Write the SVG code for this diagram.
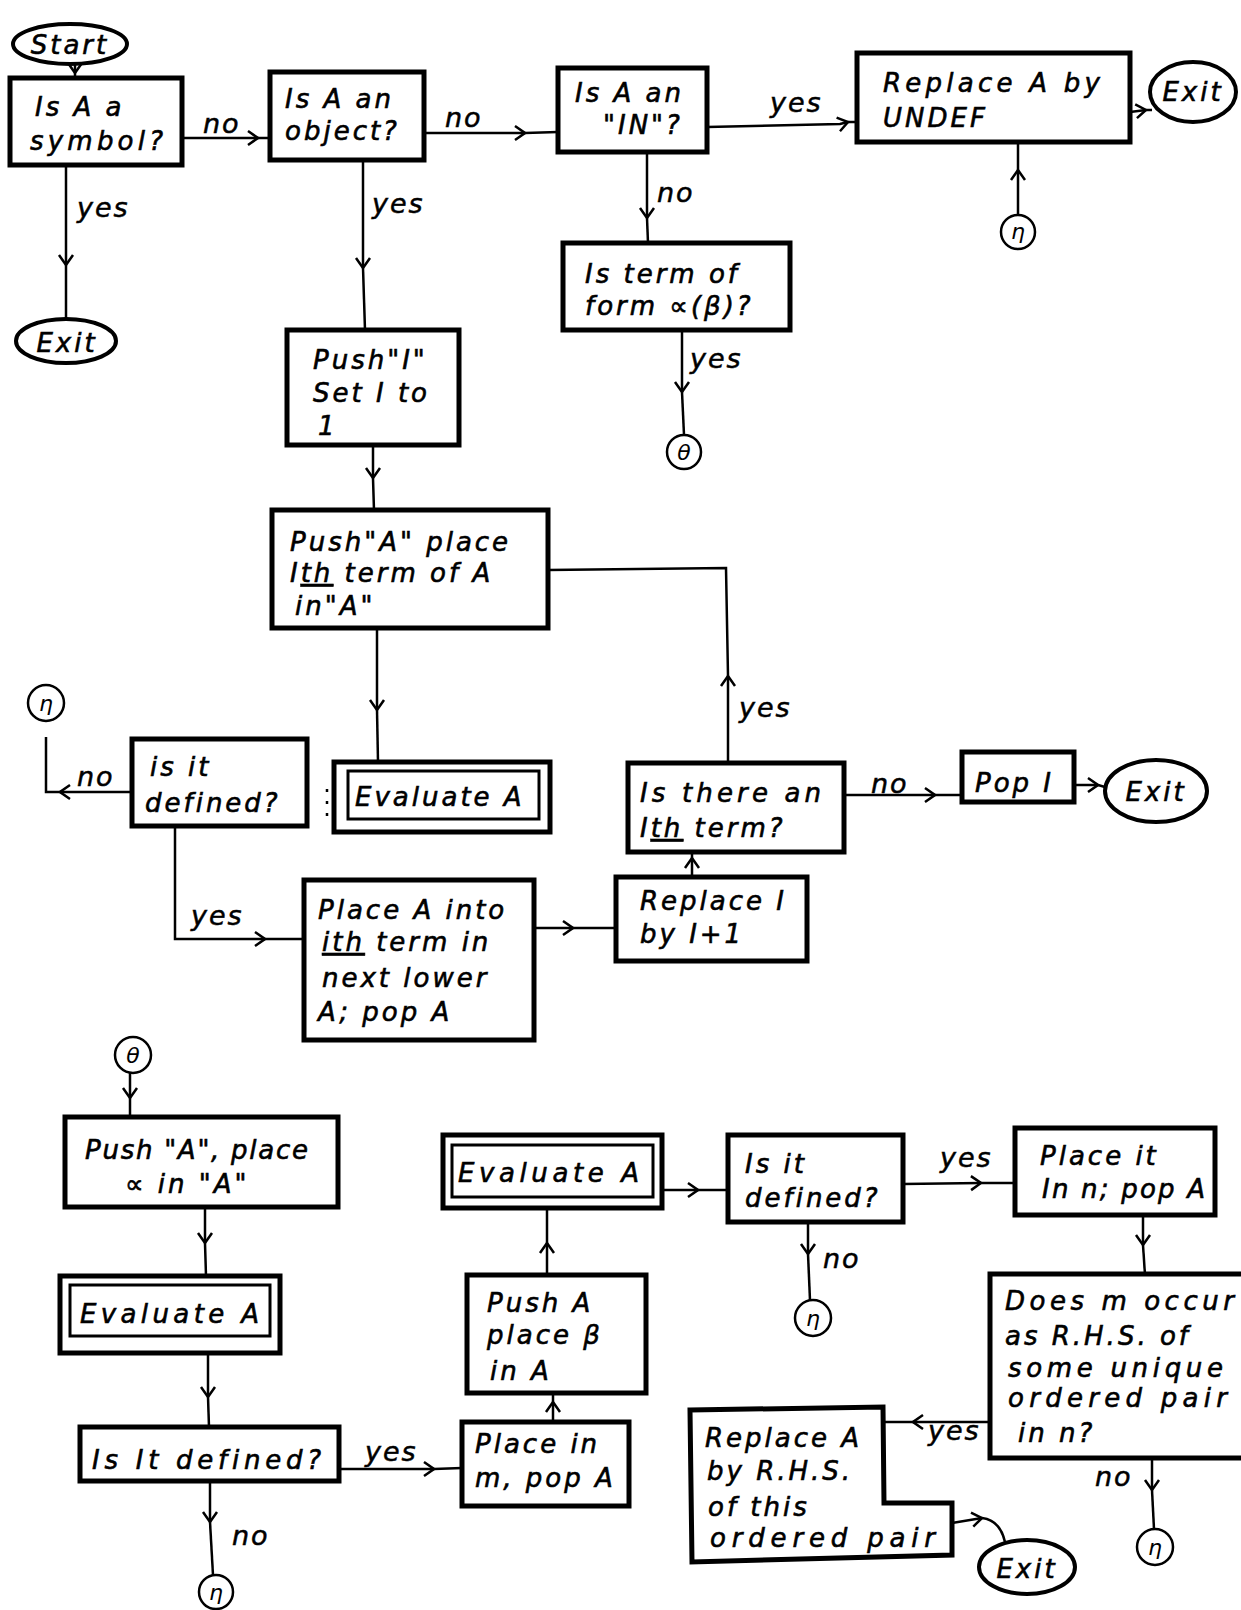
<svg xmlns="http://www.w3.org/2000/svg" width="1241" height="1610" viewBox="0 0 1241 1610">
<defs>
<style>
.t{font-family:"DejaVu Sans","Liberation Sans",sans-serif;font-style:italic;font-size:26px;letter-spacing:3px;fill:#000;stroke:#000;stroke-width:0.6}
.l{font-family:"DejaVu Sans","Liberation Sans",sans-serif;font-style:italic;font-size:27px;letter-spacing:2px;fill:#000;stroke:#000;stroke-width:0.5}
.m{font-family:"DejaVu Sans","Liberation Sans",sans-serif;font-style:italic;font-size:22px;fill:#000;text-anchor:middle}
.b{fill:#fff;stroke:#000;stroke-width:5}
.bi{fill:none;stroke:#000;stroke-width:3}
.e{fill:#fff;stroke:#000;stroke-width:4}
.k{fill:#fff;stroke:#000;stroke-width:2.5}
.c{fill:none;stroke:#000;stroke-width:2.5}
.u{text-decoration:underline}
</style>
<marker id="a" viewBox="-12 -9 14 18" refX="0" refY="0" markerWidth="14" markerHeight="18" markerUnits="userSpaceOnUse" orient="auto">
<path d="M-10,-7 L0,0 L-10,7" fill="none" stroke="#000" stroke-width="2.5"/>
</marker>
</defs>
<rect width="1241" height="1610" fill="#fff"/>

<g id="connectors">
<path class="c" d="M75,62 L75,73" marker-end="url(#a)"/><path class="c" d="M75,73 L75,78"/>
<path class="c" d="M182,138 L258,138" marker-end="url(#a)"/><path class="c" d="M258,138 L270,138"/>
<path class="c" d="M66,165 L66,265" marker-end="url(#a)"/><path class="c" d="M66,265 L66,319"/>
<path class="c" d="M424,133 L525,133" marker-end="url(#a)"/><path class="c" d="M525,133 L558,132"/>
<path class="c" d="M363,160 L363,268" marker-end="url(#a)"/><path class="c" d="M363,268 L365,330"/>
<path class="c" d="M707,127 L840,124 L848,122" marker-end="url(#a)"/><path class="c" d="M848,122 L857,122"/>
<path class="c" d="M647,152 L647,218" marker-end="url(#a)"/><path class="c" d="M647,218 L648,243"/>
<path class="c" d="M682,330 L682,392" marker-end="url(#a)"/><path class="c" d="M682,392 L684,435"/>
<path class="c" d="M1130,112 L1146,110" marker-end="url(#a)"/><path class="c" d="M1146,110 L1152,110"/>
<path class="c" d="M1018,215 L1018,170" marker-end="url(#a)"/><path class="c" d="M1018,170 L1018,142"/>
<path class="c" d="M373,445 L373,478" marker-end="url(#a)"/><path class="c" d="M373,478 L374,510"/>
<path class="c" d="M377,628 L377,710" marker-end="url(#a)"/><path class="c" d="M377,710 L378,762"/>
<path class="c" d="M327,789 L327,823" stroke-dasharray="3,9" stroke-width="4"/>
<path class="c" d="M132,792 L60,792" marker-end="url(#a)"/><path class="c" d="M60,792 L46,792 L46,737"/>
<path class="c" d="M175,826 L175,939 L265,939" marker-end="url(#a)"/><path class="c" d="M265,939 L304,939"/>
<path class="c" d="M534,928 L573,928" marker-end="url(#a)"/><path class="c" d="M573,928 L616,928"/>
<path class="c" d="M692,877 L692,858" marker-end="url(#a)"/><path class="c" d="M692,858 L692,852"/>
<path class="c" d="M728,763 L728,676" marker-end="url(#a)"/><path class="c" d="M728,676 L726,568 L548,570"/>
<path class="c" d="M844,795 L935,795" marker-end="url(#a)"/><path class="c" d="M935,795 L962,795"/>
<path class="c" d="M1074,785 L1098,785" marker-end="url(#a)"/><path class="c" d="M1098,785 L1105,787"/>
<path class="c" d="M130,1073 L130,1098" marker-end="url(#a)"/><path class="c" d="M130,1098 L130,1118"/>
<path class="c" d="M205,1208 L205,1243" marker-end="url(#a)"/><path class="c" d="M205,1243 L206,1276"/>
<path class="c" d="M208,1353 L208,1397" marker-end="url(#a)"/><path class="c" d="M208,1397 L209,1427"/>
<path class="c" d="M339,1469 L434,1469" marker-end="url(#a)"/><path class="c" d="M434,1469 L462,1468"/>
<path class="c" d="M210,1481 L210,1522" marker-end="url(#a)"/><path class="c" d="M210,1522 L213,1575"/>
<path class="c" d="M553,1422 L553,1402" marker-end="url(#a)"/><path class="c" d="M553,1402 L553,1393"/>
<path class="c" d="M547,1275 L547,1243" marker-end="url(#a)"/><path class="c" d="M547,1243 L547,1208"/>
<path class="c" d="M662,1190 L698,1190" marker-end="url(#a)"/><path class="c" d="M698,1190 L728,1190"/>
<path class="c" d="M903,1184 L981,1183" marker-end="url(#a)"/><path class="c" d="M981,1183 L1015,1183"/>
<path class="c" d="M808,1222 L808,1254" marker-end="url(#a)"/><path class="c" d="M808,1254 L810,1300"/>
<path class="c" d="M1143,1215 L1143,1245" marker-end="url(#a)"/><path class="c" d="M1143,1245 L1145,1275"/>
<path class="c" d="M990,1422 L913,1422" marker-end="url(#a)"/><path class="c" d="M913,1422 L884,1422"/>
<path class="c" d="M1152,1458 L1152,1490" marker-end="url(#a)"/><path class="c" d="M1152,1490 L1154,1529"/>
<path class="c" d="M952,1523 L982,1518" marker-end="url(#a)"/><path class="c" d="M982,1518 Q1000,1520 1005,1542"/>
</g>

<g id="labels">
<text class="l" x="203" y="133">no</text>
<text class="l" x="77" y="217">yes</text>
<text class="l" x="372" y="213">yes</text>
<text class="l" x="445" y="127">no</text>
<text class="l" x="770" y="112">yes</text>
<text class="l" x="657" y="202">no</text>
<text class="l" x="690" y="368">yes</text>
<text class="l" x="77" y="786">no</text>
<text class="l" x="191" y="925">yes</text>
<text class="l" x="739" y="717">yes</text>
<text class="l" x="871" y="793">no</text>
<text class="l" x="365" y="1461">yes</text>
<text class="l" x="232" y="1545">no</text>
<text class="l" x="823" y="1268">no</text>
<text class="l" x="940" y="1167">yes</text>
<text class="l" x="928" y="1440">yes</text>
<text class="l" x="1095" y="1486">no</text>
</g>

<g id="start"><ellipse class="e" cx="70" cy="44" rx="57" ry="20" stroke-width="5"/><text class="t" x="70" y="54" text-anchor="middle" font-size="29">Start</text></g>
<g id="isSymbol"><rect class="b" x="10" y="78" width="172" height="87"/><text class="t" x="35" y="116">Is A a</text><text class="t" x="30" y="150" textLength="136" lengthAdjust="spacing">symbol?</text></g>
<g id="isObject"><rect class="b" x="270" y="72" width="154" height="88"/><text class="t" x="285" y="108">Is A an</text><text class="t" x="285" y="140">object?</text></g>
<g id="isIN"><rect class="b" x="558" y="68" width="149" height="84"/><text class="t" x="575" y="102">Is A an</text><text class="t" x="603" y="134">"IN"?</text></g>
<g id="replaceUndef"><rect class="b" x="857" y="53" width="273" height="89"/><text class="t" x="883" y="92" textLength="220" lengthAdjust="spacing">Replace A by</text><text class="t" x="883" y="127">UNDEF</text></g>
<g id="exit1"><ellipse class="e" cx="1193" cy="92" rx="43" ry="30"/><text class="t" x="1193" y="101" text-anchor="middle">Exit</text></g>
<g id="eta1"><circle class="k" cx="1018" cy="232" r="17"/><text class="m" x="1018" y="239">η</text></g>
<g id="exit2"><ellipse class="e" cx="66" cy="341" rx="50" ry="22"/><text class="t" x="67" y="352" text-anchor="middle" font-size="28">Exit</text></g>
<g id="termForm"><rect class="b" x="563" y="243" width="227" height="87"/><text class="t" x="585" y="283">Is term of</text><text class="t" x="585" y="315">form ∝(β)?</text></g>
<g id="theta1"><circle class="k" cx="684" cy="452" r="17"/><text class="m" x="684" y="460">θ</text></g>
<g id="pushI"><rect class="b" x="287" y="330" width="172" height="115"/><text class="t" x="313" y="369">Push"I"</text><text class="t" x="313" y="402">Set I to</text><text class="t" x="318" y="435">1</text></g>
<g id="pushA"><rect class="b" x="272" y="510" width="276" height="118"/><text class="t" x="290" y="551">Push"A" place</text><text class="t" x="290" y="582">I<tspan class="u">th</tspan> term of A</text><text class="t" x="295" y="615">in"A"</text></g>
<g id="eta2"><circle class="k" cx="46" cy="703" r="18"/><text class="m" x="46" y="711">η</text></g>
<g id="isDefined1"><rect class="b" x="132" y="739" width="175" height="87"/><text class="t" x="150" y="776">is it</text><text class="t" x="145" y="812">defined?</text></g>
<g id="evaluate1"><rect class="b" x="334" y="762" width="216" height="70"/><rect class="bi" x="348" y="771" width="191" height="48"/><text class="t" x="355" y="806">Evaluate A</text></g>
<g id="placeAInto"><rect class="b" x="304" y="880" width="230" height="160"/><text class="t" x="318" y="919">Place A into</text><text class="t" x="322" y="951"><tspan class="u">ith</tspan> term in</text><text class="t" x="322" y="987">next lower</text><text class="t" x="318" y="1021">A; pop A</text></g>
<g id="isThere"><rect class="b" x="628" y="763" width="216" height="89"/><text class="t" x="640" y="802" textLength="184" lengthAdjust="spacing">Is there an</text><text class="t" x="640" y="837">I<tspan class="u">th</tspan> term?</text></g>
<g id="popI"><rect class="b" x="962" y="752" width="112" height="50"/><text class="t" x="975" y="792">Pop I</text></g>
<g id="exit3"><ellipse class="e" cx="1156" cy="791" rx="51" ry="31"/><text class="t" x="1156" y="801" text-anchor="middle" font-size="28">Exit</text></g>
<g id="replaceI"><rect class="b" x="616" y="877" width="191" height="84"/><text class="t" x="640" y="910">Replace I</text><text class="t" x="640" y="943">by I+1</text></g>
<g id="theta2"><circle class="k" cx="133" cy="1055" r="18"/><text class="m" x="133" y="1063">θ</text></g>
<g id="pushAlpha"><rect class="b" x="65" y="1117" width="273" height="90"/><text class="t" x="85" y="1159" textLength="226" lengthAdjust="spacing">Push "A", place</text><text class="t" x="125" y="1193">∝  in "A"</text></g>
<g id="evaluate2"><rect class="b" x="60" y="1276" width="220" height="77"/><rect class="bi" x="70" y="1285" width="200" height="51"/><text class="t" x="80" y="1323" textLength="182" lengthAdjust="spacing">Evaluate A</text></g>
<g id="isDefined2"><rect class="b" x="80" y="1427" width="259" height="54"/><text class="t" x="92" y="1469" textLength="232" lengthAdjust="spacing">Is It defined?</text></g>
<g id="eta3"><circle class="k" cx="216" cy="1592" r="17"/><text class="m" x="216" y="1600">η</text></g>
<g id="placeInM"><rect class="b" x="462" y="1422" width="167" height="84"/><text class="t" x="475" y="1453">Place in</text><text class="t" x="475" y="1487">m, pop A</text></g>
<g id="pushBeta"><rect class="b" x="467" y="1275" width="179" height="118"/><text class="t" x="487" y="1312">Push A</text><text class="t" x="487" y="1344">place β</text><text class="t" x="490" y="1380">in A</text></g>
<g id="evaluate3"><rect class="b" x="443" y="1135" width="219" height="73"/><rect class="bi" x="452" y="1145" width="201" height="52"/><text class="t" x="458" y="1182" textLength="184" lengthAdjust="spacing">Evaluate A</text></g>
<g id="isDefined3"><rect class="b" x="728" y="1135" width="175" height="87"/><text class="t" x="745" y="1173">Is it</text><text class="t" x="745" y="1207">defined?</text></g>
<g id="eta4"><circle class="k" cx="813" cy="1318" r="18"/><text class="m" x="813" y="1326">η</text></g>
<g id="placeItN"><rect class="b" x="1015" y="1128" width="200" height="87"/><text class="t" x="1040" y="1165">Place it</text><text class="t" x="1042" y="1198" textLength="166" lengthAdjust="spacing">In n; pop A</text></g>
<g id="doesM"><rect class="b" x="990" y="1274" width="270" height="184"/><text class="t" x="1005" y="1310" textLength="232" lengthAdjust="spacing">Does m occur</text><text class="t" x="1005" y="1345">as R.H.S. of</text><text class="t" x="1008" y="1377" textLength="218" lengthAdjust="spacing">some unique</text><text class="t" x="1008" y="1407" textLength="222" lengthAdjust="spacing">ordered pair</text><text class="t" x="1018" y="1442">in n?</text></g>
<g id="replaceRHS"><path class="b" d="M690,1410 L883,1407 L884,1503 L952,1503 L952,1555 L692,1562 Z"/><text class="t" x="705" y="1447">Replace A</text><text class="t" x="707" y="1480">by R.H.S.</text><text class="t" x="708" y="1516">of this</text><text class="t" x="710" y="1547" textLength="228" lengthAdjust="spacing">ordered pair</text></g>
<g id="exit4"><ellipse class="e" cx="1027" cy="1567" rx="48" ry="27"/><text class="t" x="1027" y="1578" text-anchor="middle" font-size="28">Exit</text></g>
<g id="eta5"><circle class="k" cx="1155" cy="1547" r="18"/><text class="m" x="1155" y="1555">η</text></g>
</svg>
